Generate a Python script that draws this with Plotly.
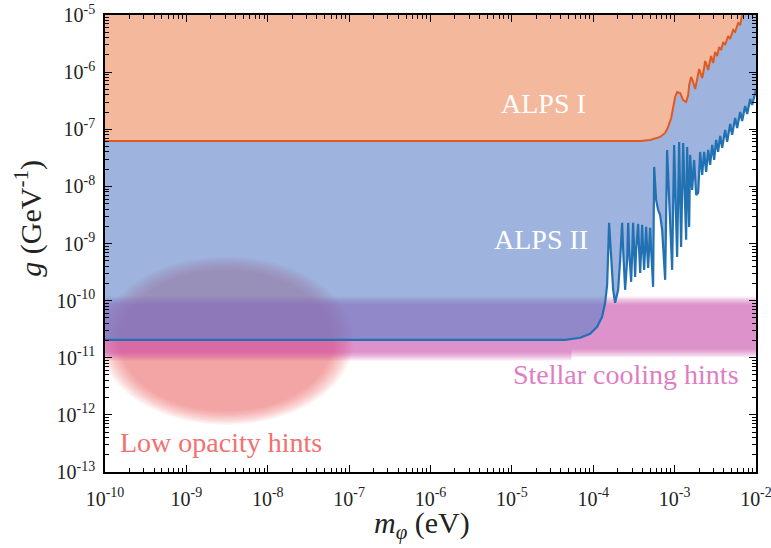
import numpy as np
import plotly.graph_objects as go

# ---------------- data (log10 values) ----------------
# ALPS II sensitivity curve: log10(mass / eV), log10(g / GeV^-1)
alps2_log_mass = [-10.0, -4.345, -4.161, -4.038, -3.952, -3.891, -3.854, -3.829, -3.805, -3.780,
                  -3.755, -3.731, -3.694, -3.669, -3.645, -3.632, -3.608, -3.583, -3.571, -3.559,
                  -3.534, -3.522, -3.510, -3.497, -3.485, -3.473, -3.448, -3.436, -3.423, -3.411,
                  -3.399, -3.387, -3.374, -3.362, -3.350, -3.337, -3.325, -3.313, -3.301, -3.288,
                  -3.276, -3.264, -3.251, -3.227, -3.202, -3.178, -3.153, -3.116, -3.092, -3.030,
                  -3.006, -2.969, -2.944, -2.920, -2.895, -2.858, -2.846, -2.821, -2.809, -2.784,
                  -2.760, -2.735, -2.710, -2.686, -2.661, -2.637, -2.612, -2.587, -2.563, -2.538,
                  -2.514, -2.489, -2.465, -2.440, -2.415, -2.379, -2.354, -2.317, -2.293, -2.256,
                  -2.231, -2.194, -2.170, -2.133, -2.108, -2.071, -2.047, -2.0]
alps2_log_g = [-10.686, -10.686, -10.651, -10.581, -10.458, -10.283, -10.039, -9.724, -8.639, -9.286,
               -9.811, -10.039, -9.811, -9.286, -8.639, -9.111, -9.811, -9.286, -8.639, -9.111,
               -9.671, -9.199, -8.639, -9.111, -9.584, -9.111, -8.656, -9.111, -9.514, -9.111,
               -8.674, -9.111, -9.461, -9.076, -8.709, -9.111, -9.426, -9.076, -8.726, -9.111,
               -9.374, -9.759, -7.659, -8.237, -8.411, -8.499, -8.761, -9.636, -7.362, -9.461,
               -7.274, -9.234, -7.222, -9.059, -7.239, -8.936, -7.309, -8.709, -7.449, -8.062,
               -7.537, -8.149, -8.114, -7.397, -7.799, -7.397, -7.747, -7.362, -7.624, -7.274,
               -7.537, -7.187, -7.397, -7.117, -7.327, -7.012, -7.222, -6.907, -7.099, -6.802,
               -6.977, -6.697, -6.854, -6.592, -6.732, -6.470, -6.575, -6.312]

# ALPS I sensitivity curve
alps1_log_mass = [-10.0, -3.423, -3.301, -3.178, -3.116, -3.079, -3.042, -3.018, -2.993, -2.969,
                  -2.932, -2.895, -2.858, -2.833, -2.821, -2.797, -2.772, -2.747, -2.723, -2.698,
                  -2.686, -2.661, -2.637, -2.624, -2.600, -2.587, -2.563, -2.551, -2.538, -2.526,
                  -2.502, -2.477, -2.452, -2.428, -2.403, -2.379, -2.342, -2.317, -2.280, -2.256,
                  -2.219, -2.194, -2.170]
alps1_log_g = [-7.204, -7.204, -7.187, -7.134, -7.064, -6.959, -6.802, -6.610, -6.435, -6.347,
               -6.365, -6.487, -6.522, -6.400, -6.225, -6.085, -6.172, -6.295, -6.102, -5.945,
               -5.997, -6.102, -5.927, -5.805, -5.892, -5.962, -5.787, -5.717, -5.787, -5.840,
               -5.647, -5.717, -5.560, -5.612, -5.472, -5.525, -5.367, -5.420, -5.262, -5.297,
               -5.140, -5.175, -5.0]

# Stellar cooling hint band (two mass segments)
stellar_mass_edges = [1e-10, 5.4e-5, 1e-2]
stellar_g_low = [1.05e-11, 1.2e-11]
stellar_g_high = [1.0e-10, 1.0e-10]

# Low opacity hint region (ellipse in log-log space)
opacity_center_mass = 3.1e-9
opacity_center_g = 2.0e-11
opacity_half_width_dec = 1.46
opacity_half_height_dec = 1.38

# axis ranges and ticks
mass_range = [1e-10, 1e-2]
g_range = [1e-13, 1e-5]
x_tick_vals = [1e-10, 1e-9, 1e-8, 1e-7, 1e-6, 1e-5, 1e-4, 1e-3, 1e-2]
x_tick_text = ["10<sup>-10</sup>", "10<sup>-9</sup>", "10<sup>-8</sup>", "10<sup>-7</sup>",
               "10<sup>-6</sup>", "10<sup>-5</sup>", "10<sup>-4</sup>", "10<sup>-3</sup>",
               "10<sup>-2</sup>"]
y_tick_vals = [1e-13, 1e-12, 1e-11, 1e-10, 1e-9, 1e-8, 1e-7, 1e-6, 1e-5]
y_tick_text = ["10<sup>-13</sup>", "10<sup>-12</sup>", "10<sup>-11</sup>", "10<sup>-10</sup>",
               "10<sup>-9</sup>", "10<sup>-8</sup>", "10<sup>-7</sup>", "10<sup>-6</sup>",
               "10<sup>-5</sup>"]
x_minor = [m * 10.0 ** e for e in range(-10, -2) for m in range(2, 10)]
y_minor = [m * 10.0 ** e for e in range(-13, -5) for m in range(2, 10)]

FONT = "Liberation Serif"

alps2_mass = (10.0 ** np.array(alps2_log_mass)).tolist()
alps2_g = (10.0 ** np.array(alps2_log_g)).tolist()
alps1_mass = (10.0 ** np.array(alps1_log_mass)).tolist()
alps1_g = (10.0 ** np.array(alps1_log_g)).tolist()

fig = go.Figure()

# --- soft ellipse: low opacity hints ---
t = np.linspace(0, 2 * np.pi, 181)
ell_scales = np.linspace(0.90, 1.07, 12)
ell_alpha = 1 - 0.45 ** (1 / len(ell_scales))
for s in ell_scales:
    ex = 10.0 ** (np.log10(opacity_center_mass) + s * opacity_half_width_dec * np.cos(t))
    ey = 10.0 ** (np.log10(opacity_center_g) + s * opacity_half_height_dec * np.sin(t))
    fig.add_trace(go.Scatter(x=ex, y=ey, mode="lines", line=dict(width=0),
                             fill="toself", fillcolor=f"rgba(240,100,90,{ell_alpha:.3f})",
                             hoverinfo="skip"))

# --- soft band: stellar cooling hints ---
band_offsets = np.linspace(-0.07, 0.07, 7)
band_alpha = 1 - 0.45 ** (1 / len(band_offsets))
for d in band_offsets:
    for i in range(2):
        x0, x1 = stellar_mass_edges[i], stellar_mass_edges[i + 1]
        lo = stellar_g_low[i] * 10 ** d
        hi = stellar_g_high[i] * 10 ** (-d)
        fig.add_trace(go.Scatter(x=[x0, x1, x1, x0], y=[lo, lo, hi, hi], mode="lines",
                                 line=dict(width=0), fill="toself",
                                 fillcolor=f"rgba(202,60,162,{band_alpha:.3f})",
                                 hoverinfo="skip"))

# --- ALPS II region (semi-transparent blue) ---
fig.add_trace(go.Scatter(x=alps2_mass + [mass_range[1], mass_range[0]],
                         y=alps2_g + [g_range[1], g_range[1]],
                         mode="lines", line=dict(width=0), fill="toself",
                         fillcolor="rgba(93,130,200,0.6)", hoverinfo="skip"))

# --- ALPS I region (orange) ---
fig.add_trace(go.Scatter(x=alps1_mass + [mass_range[0]],
                         y=alps1_g + [g_range[1]],
                         mode="lines", line=dict(width=0), fill="toself",
                         fillcolor="rgb(244,184,156)", hoverinfo="skip"))

# --- curves ---
fig.add_trace(go.Scatter(x=alps2_mass, y=alps2_g, mode="lines",
                         line=dict(color="#2271b3", width=2.2)))
fig.add_trace(go.Scatter(x=alps1_mass, y=alps1_g, mode="lines",
                         line=dict(color="#e05a1f", width=2)))

# --- labels ---
def lab(text, xm, yg, color):
    fig.add_annotation(x=np.log10(xm), y=np.log10(yg), xref="x", yref="y", text=text,
                       showarrow=False, font=dict(family=FONT, size=28, color=color),
                       xanchor="center", yanchor="middle")

lab("ALPS I", 2.42e-5, 2.88e-7, "white")
lab("ALPS II", 2.29e-5, 1.16e-9, "white")
lab("Stellar cooling hints", 2.5e-4, 5.04e-12, "#e07dc2")
lab("Low opacity hints", 2.67e-9, 3.3e-13, "#f46f6f")

fig.add_annotation(xref="paper", yref="paper", x=0.487, y=-0.117,
                   text="<i>m</i><sub><i>φ</i></sub> (eV)", showarrow=False,
                   font=dict(family=FONT, size=30, color="#222"),
                   xanchor="center", yanchor="middle")
fig.add_annotation(xref="paper", yref="paper", x=-0.117, y=0.556,
                   text="<i>g</i> (GeV<sup>-1</sup>)", showarrow=False, textangle=-90,
                   font=dict(family=FONT, size=30, color="#222"),
                   xanchor="center", yanchor="middle")

axis_common = dict(type="log", ticks="inside", ticklen=7, tickwidth=1, tickcolor="black",
                   showline=True, linecolor="black", linewidth=1.5, mirror="allticks",
                   showgrid=False, zeroline=False, tickmode="array", automargin=False,
                   ticklabeloverflow="allow",
                   tickfont=dict(family=FONT, size=20, color="#222"))

fig.update_layout(
    width=771, height=548,
    margin=dict(l=105, r=15, t=15, b=76),
    paper_bgcolor="white", plot_bgcolor="white",
    showlegend=False,
    font=dict(family=FONT),
    xaxis=dict(range=[-10.0005, -1.9995], tickvals=x_tick_vals, ticktext=x_tick_text,
               ticklabelstandoff=8,
               minor=dict(tickmode="array", tickvals=x_minor, ticks="inside", ticklen=4,
                          tickwidth=1, tickcolor="black"),
               **axis_common),
    yaxis=dict(range=[-13.0005, -4.9995], tickvals=y_tick_vals, ticktext=y_tick_text,
               ticklabelstandoff=4,
               minor=dict(tickmode="array", tickvals=y_minor, ticks="inside", ticklen=4,
                          tickwidth=1, tickcolor="black"),
               **axis_common),
)

fig.write_html("out.html", config={"displayModeBar": False},
               post_script="document.body.style.margin='0';document.body.style.overflow='hidden';")
